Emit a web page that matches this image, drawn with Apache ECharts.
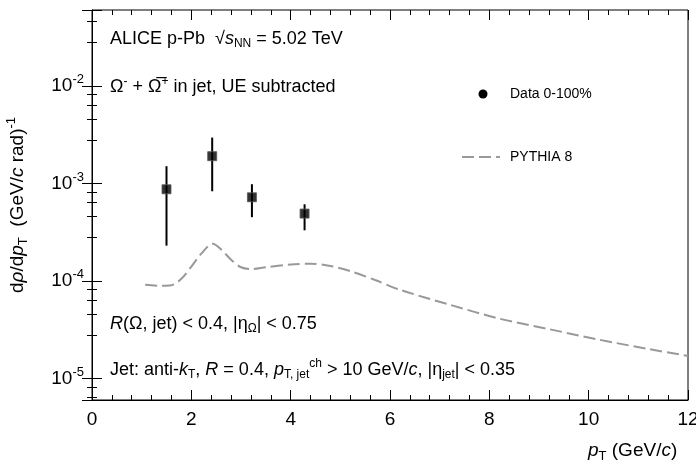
<!DOCTYPE html>
<html><head><meta charset="utf-8">
<script src="https://cdn.jsdelivr.net/npm/echarts@6/dist/echarts.min.js"></script>
<style>html,body{margin:0;background:#fff}#c{width:696px;height:472px}</style>
</head><body><div id="c"></div>
<script>
const dataX=[1.5,2.42,3.22,4.28];
const dataY=[8.7e-4,1.9e-3,7.2e-4,4.9e-4];
const errLo=[2.3e-4,8.3e-4,4.5e-4,3.3e-4];
const errHi=[1.5e-3,2.95e-3,9.8e-4,6.1e-4];
const pyX=[1.07,1.4,1.6,1.8,2.0,2.2,2.43,2.6,2.8,3.0,3.2,3.5,4.0,4.4,4.8,5.2,5.7,6.2,7.2,8.2,9.2,10.2,11.2,12];
const pyY=[9.1e-5,8.9e-5,9.0e-5,1.05e-4,1.4e-4,1.9e-4,2.4e-4,2.1e-4,1.65e-4,1.38e-4,1.32e-4,1.38e-4,1.47e-4,1.5e-4,1.42e-4,1.26e-4,1.02e-4,8.1e-5,5.7e-5,4.1e-5,3.2e-5,2.5e-5,2.0e-5,1.7e-5];
const ch=echarts.init(document.getElementById('c'));
const F='Liberation Sans, Arial, sans-serif';
const tk={inside:true,length:10,lineStyle:{color:'#000'}};
const mtk={show:true,length:5,lineStyle:{color:'#000'}};
ch.setOption({
animation:false,
grid:{left:92,right:8,top:10,bottom:72,show:true,borderColor:'#000',borderWidth:1,outerBoundsMode:'none',containLabel:false},
xAxis:[{type:'value',min:0,max:12,interval:2,
  name:'{i|p}{s|T} (GeV/{i|c})',nameLocation:'end',nameGap:-100,
  nameTextStyle:{color:'#000',fontSize:19,fontFamily:F,align:'left',verticalAlign:'top',padding:[38,0,0,0],
   rich:{i:{fontStyle:'italic',fontSize:19,fontFamily:F},s:{fontSize:13,fontFamily:F,padding:[12,0,0,0]}}},
  axisLine:{show:true,lineStyle:{color:'#000'}},axisTick:tk,minorTick:mtk,splitLine:{show:false},
  axisLabel:{color:'#000',fontSize:19,fontFamily:F,margin:10}},
 {type:'value',min:0,max:12,interval:2,position:'top',axisLine:{show:false},axisLabel:{show:false},axisTick:tk,minorTick:mtk,splitLine:{show:false}}],
yAxis:[{type:'log',min:6e-6,max:0.06,
  name:'d{i|ρ}/d{i|p}{s|T}  (GeV/{i|c} rad){u|-1}',nameLocation:'middle',nameRotate:90,nameGap:62,
  nameTextStyle:{color:'#000',fontSize:19,fontFamily:F,rich:{i:{fontStyle:'italic',fontSize:19,fontFamily:F},s:{fontSize:13,fontFamily:F,padding:[12,0,0,0]},u:{fontSize:13,fontFamily:F,padding:[0,0,12,0]}}},
  axisLine:{show:true,lineStyle:{color:'#000'}},axisTick:tk,minorTick:{show:true,splitNumber:5,length:5,lineStyle:{color:'#000'}},splitLine:{show:false},
  axisLabel:{color:'#000',fontSize:19,fontFamily:F,formatter:v=>{const e=Math.round(Math.log10(v));return Math.abs(Math.log10(v)-e)<0.01?'{b|10}{e|'+e+'}':''},rich:{b:{fontSize:19,fontFamily:F},e:{fontSize:13,fontFamily:F,padding:[0,0,12,0]}}}},
 {type:'log',min:6e-6,max:0.06,position:'right',axisLine:{show:false},axisLabel:{show:false},axisTick:tk,minorTick:{show:true,splitNumber:5,length:5,lineStyle:{color:'#000'}},splitLine:{show:false}}],
graphic:[
 {type:'text',left:110,top:30,style:{text:'ALICE p-Pb  √{o|s}{s|NN} = 5.02 TeV',fill:'#000',font:'18px '+F,rich:{o:{fontStyle:'italic',fontSize:18,fontFamily:F},s:{fontSize:12,fontFamily:F,padding:[10,0,0,0]}}}},
 {type:'text',left:110,top:76,style:{text:'Ω{u|-} + Ω̅{u|+} in jet, UE subtracted',fill:'#000',font:'18px '+F,rich:{u:{fontSize:12,fontFamily:F,padding:[0,0,10,0]}}}},
 {type:'text',left:110,top:315,style:{text:'{i|R}(Ω, jet) < 0.4, |η{s|Ω}| < 0.75',fill:'#000',font:'18px '+F,rich:{i:{fontStyle:'italic',fontSize:18,fontFamily:F},s:{fontSize:12,fontFamily:F,padding:[10,0,0,0]}}}},
 {type:'text',left:110,top:358,style:{text:'Jet: anti-{i|k}{s|T}, {i|R} = 0.4, {i|p}{s|T, jet}{u|ch} > 10 GeV/{i|c}, |η{s|jet}| < 0.35',fill:'#000',font:'18px '+F,rich:{i:{fontStyle:'italic',fontSize:18,fontFamily:F},s:{fontSize:12,fontFamily:F,padding:[10,0,0,0]},u:{fontSize:12,fontFamily:F,padding:[0,0,12,0]}}}},
 {type:'circle',shape:{cx:483,cy:94,r:4.5},style:{fill:'#000'}},
 {type:'text',left:510,top:87,style:{text:'Data 0-100%',fill:'#000',font:'14px '+F}},
 {type:'line',shape:{x1:462,y1:157,x2:500,y2:157},style:{stroke:'#999',lineWidth:2,lineDash:[12,5]}},
 {type:'text',left:510,top:150,style:{text:'PYTHIA 8',fill:'#000',font:'14px '+F}}
],
series:[
 {type:'line',data:pyX.map((x,i)=>[x,pyY[i]]),smooth:0.3,symbol:'none',lineStyle:{color:'#999',width:2,type:[12,5]},z:1},
 {type:'custom',data:dataX.map((x,i)=>[x,errLo[i],errHi[i]]),renderItem:(p,api)=>{const a=api.coord([api.value(0),api.value(1)]),b=api.coord([api.value(0),api.value(2)]);return{type:'line',shape:{x1:a[0],y1:a[1],x2:b[0],y2:b[1]},style:{stroke:'#000',lineWidth:2}}},z:2},
 {type:'scatter',data:dataX.map((x,i)=>[x,dataY[i]]),symbol:'rect',symbolSize:9,itemStyle:{color:'#000',borderColor:'#555',borderWidth:1},z:3}
]});
</script></body></html>
